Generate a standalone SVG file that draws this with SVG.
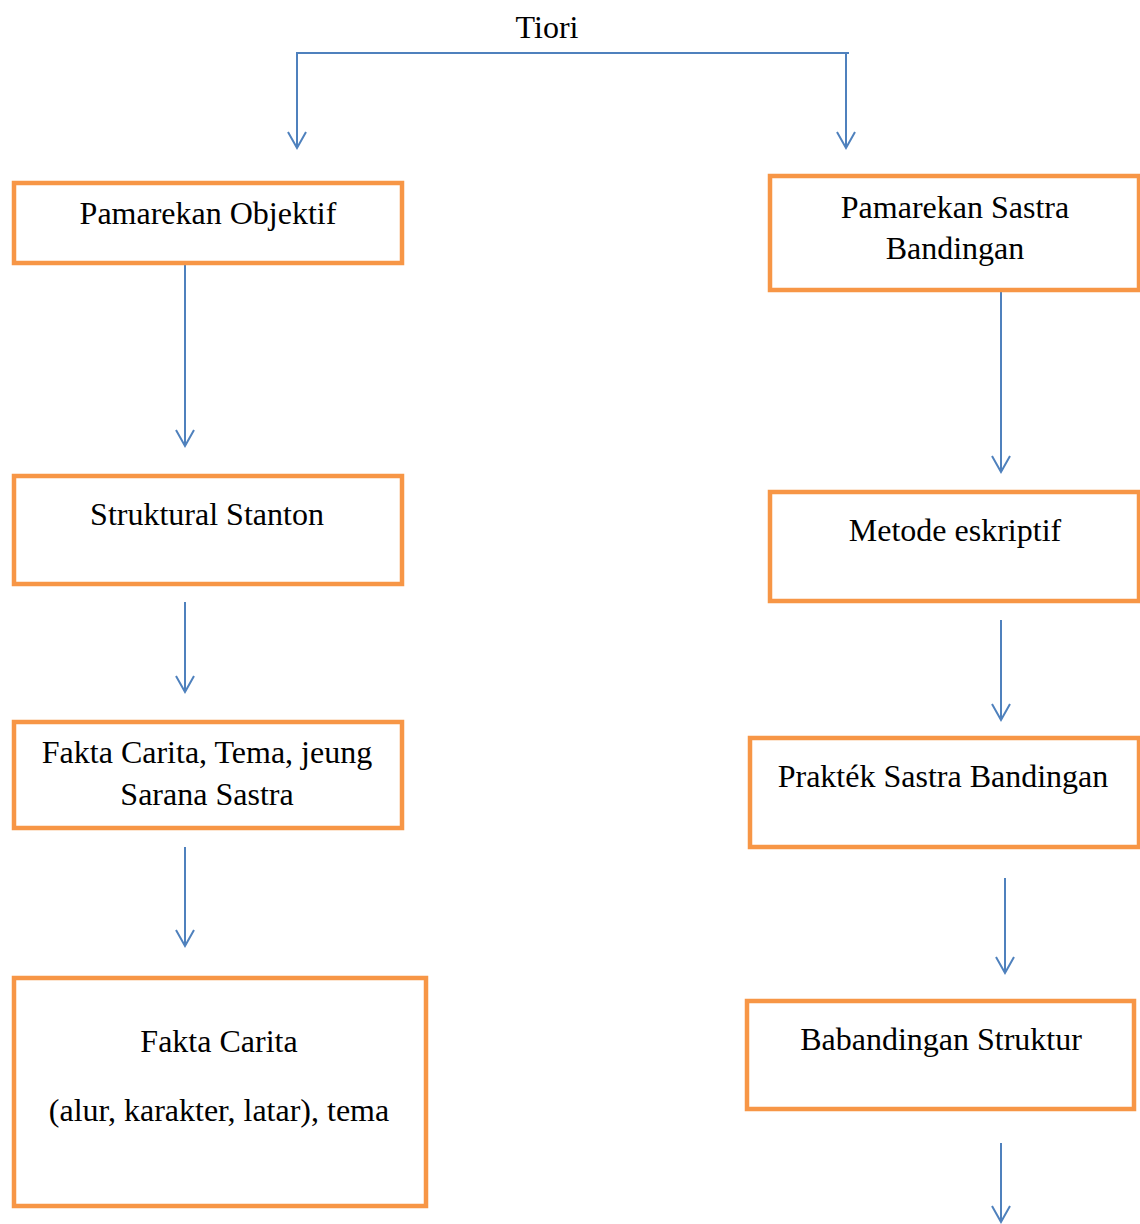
<svg xmlns="http://www.w3.org/2000/svg" width="1140" height="1224" viewBox="0 0 1140 1224">
<defs>
<style>
.box{fill:#fff;stroke:#F79646;stroke-width:4.5}
.t{font-family:"Liberation Serif","Times New Roman",serif;font-size:32px;fill:#000;text-anchor:middle}
.c{fill:none;stroke:#4F81BD;stroke-width:2}
</style>
<marker id="ah" markerWidth="22" markerHeight="22" viewBox="-19 -11 22 22" refX="0" refY="0" orient="auto" markerUnits="userSpaceOnUse">
<path d="M-16,-9 L0,0 L-16,9" fill="none" stroke="#4F81BD" stroke-width="2"/>
</marker>
</defs>
<rect width="1140" height="1224" fill="#fff"/>
<g id="connectors">
<polyline class="c" points="297,148 297,53 849,53"/>
<line class="c" x1="297" y1="60" x2="297" y2="148" marker-end="url(#ah)"/>
<line class="c" x1="846" y1="53" x2="846" y2="148" marker-end="url(#ah)"/>
<line class="c" x1="185" y1="264" x2="185" y2="446" marker-end="url(#ah)"/>
<line class="c" x1="185" y1="602" x2="185" y2="692" marker-end="url(#ah)"/>
<line class="c" x1="185" y1="847" x2="185" y2="946" marker-end="url(#ah)"/>
<line class="c" x1="1001" y1="291" x2="1001" y2="472" marker-end="url(#ah)"/>
<line class="c" x1="1001" y1="620" x2="1001" y2="720" marker-end="url(#ah)"/>
<line class="c" x1="1005" y1="878" x2="1005" y2="973" marker-end="url(#ah)"/>
<line class="c" x1="1001" y1="1143" x2="1001" y2="1222" marker-end="url(#ah)"/>
</g>
<g id="tiori"><text class="t" x="547" y="38">Tiori</text></g>
<g id="n1"><rect class="box" x="14" y="183" width="388" height="80"/><text class="t" x="208" y="224">Pamarekan Objektif</text></g>
<g id="n2"><rect class="box" x="14" y="476" width="388" height="108"/><text class="t" x="207" y="525">Struktural Stanton</text></g>
<g id="n3"><rect class="box" x="14" y="722" width="388" height="106"/><text class="t" x="207" y="763">Fakta Carita, Tema, jeung</text><text class="t" x="207" y="805">Sarana Sastra</text></g>
<g id="n4"><rect class="box" x="14" y="978" width="412" height="228"/><text class="t" x="219" y="1052">Fakta Carita</text><text class="t" x="219" y="1121">(alur, karakter, latar), tema</text></g>
<g id="n5"><rect class="box" x="770" y="176" width="369" height="114"/><text class="t" x="955" y="218">Pamarekan Sastra</text><text class="t" x="955" y="259">Bandingan</text></g>
<g id="n6"><rect class="box" x="770" y="492" width="369" height="109"/><text class="t" x="955" y="541">Metode eskriptif</text></g>
<g id="n7"><rect class="box" x="750" y="738" width="389" height="109"/><text class="t" x="943" y="787">Prakték Sastra Bandingan</text></g>
<g id="n8"><rect class="box" x="747" y="1001" width="387" height="108"/><text class="t" x="941" y="1050">Babandingan Struktur</text></g>
</svg>
